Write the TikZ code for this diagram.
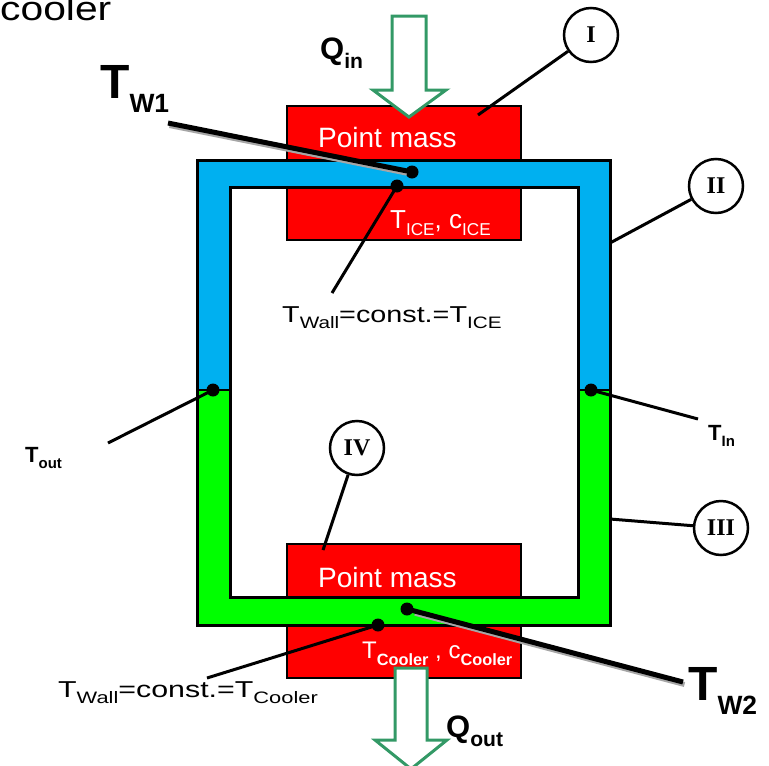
\documentclass[tikz,border=0pt]{standalone}
\usepackage{fontspec}
\setmainfont{Liberation Sans}
\newfontfamily\romfont{Liberation Serif}
\usetikzlibrary{positioning}

\definecolor{blueW}{RGB}{0,176,240}
\definecolor{greenW}{RGB}{0,255,0}
\definecolor{redM}{RGB}{255,0,0}
\definecolor{heatG}{RGB}{51,153,102}

% lowered, smaller index text
\newcommand{\low}[2][0.62]{\raisebox{-0.3em}{\scalebox{#1}{#2}}}
\newcommand{\fs}[1]{\fontsize{#1}{#1}\selectfont}
\newcommand{\wide}[2][1.25]{\scalebox{#1}[1]{#2}}

\begin{document}
\begin{tikzpicture}[x=1pt,y=-1pt,
  pmass/.style={fill=redM,draw=black,line width=2.5pt,minimum width=234pt,minimum height=134pt,inner sep=0pt},
  lead/.style={draw,line width=3pt},
  fat/.style={draw,line width=5pt},
  shade/.style={draw=black!35,line width=5pt,transform canvas={shift={(1.5pt,-2.5pt)}}},
  dot/.style={circle,fill=black,inner sep=0pt,minimum size=13pt},
  tag/.style={circle,draw,line width=2.5pt,minimum size=54pt,inner sep=0pt,font=\romfont\bfseries\fs{24}},
  heat/.style={draw=heatG,fill=white,line width=3pt,line join=miter},
  txt/.style={inner sep=0pt,anchor=base west}]

\useasboundingbox (0,0) rectangle (769,766);

% point masses
\node[pmass](ice) at (404,173){};
\node[pmass](cool) at (404,611){};

% loop walls
\fill[blueW] (197,390) -- (197,160) -- (610,160) -- (610,390) -- (578,390) -- (578,187) -- (230,187) -- (230,390) -- cycle;
\fill[greenW] (197,390) -- (197,625) -- (610,625) -- (610,390) -- (578,390) -- (578,597) -- (230,597) -- (230,390) -- cycle;
\draw[line width=3pt] (197,160) rectangle (610,625);
\draw[line width=3pt] (230,187) rectangle (578,597);
\draw[line width=1.2pt] (197,390) -- (230,390) (578,390) -- (610,390);

% heat flows
\draw[heat] (392,16) -- (426,16) -- (426,90) -- (446,90) -- (409,117) -- (373,90) -- (392,90) -- cycle;
\draw[heat] (395,668) -- (427,668) -- (427,740) -- (447,740) -- (411,769) -- (375,740) -- (395,740) -- cycle;

% texts
\node[txt,font=\fs{34}](cooler) at (0,20){\wide[1.2]{cooler}};
\node[txt,font=\bfseries\fs{31}](qin) at (320,59){Q\low[0.68]{in}};
\node[txt,font=\bfseries\fs{31}](qout) at (446,737){Q\low[0.68]{out}};
\node[txt,font=\fs{28},text=white](pm1) at (318,147){Point mass};
\node[txt,font=\fs{28},text=white](pm2) at (318,587){Point mass};
\node[txt,font=\fs{26},text=white](tice) at (390,228){T\low[0.66]{ICE}, c\low[0.66]{ICE}};
\node[txt,font=\fs{24},text=white](tcool) at (362,658){T\low[0.68]{\bfseries Cooler} , c\low[0.68]{\bfseries Cooler}};
\node[txt,font=\fs{23}](wall1) at (282,322){\wide[1.25]{T\low[0.72]{Wall}=const.=T\low[0.72]{ICE}}};
\node[txt,font=\fs{23}](wall2) at (58,697){\wide[1.32]{T\low[0.72]{Wall}=const.=T\low[0.72]{Cooler}}};
\node[txt,font=\bfseries\fs{48}](tw1) at (100,98){T\low[0.55]{W1}};
\node[txt,font=\bfseries\fs{48}](tw2) at (688,700){T\low[0.55]{W2}};
\node[txt,font=\bfseries\fs{22}](tout) at (25,462){T\low[0.68]{out}};
\node[txt,font=\bfseries\fs{22}](tinn) at (708,440){T\low[0.68]{In}};

% tags
\node[tag](t1) at (591,35){I};
\node[tag](t2) at (716,186){II};
\node[tag](t3) at (721,528){III};
\node[tag](t4) at (357,448){IV};

% sensor points
\node[dot](pw1) at (412,172){};
\node[dot](pwa1) at (397,186){};
\node[dot](pout) at (213,390){};
\node[dot](pin) at (591,390){};
\node[dot](pw2) at (407,609){};
\node[dot](pwa2) at (378,625){};

% free ends of leaders
\coordinate(ew1) at (168,123);
\coordinate(ew2) at (683,682);
\coordinate(ewa1) at (332,293);
\coordinate(ewa2) at (207,678);
\coordinate(eout) at (108,443);
\coordinate(ein) at (698,419);
\coordinate(e1) at (478,115);
\coordinate(e2) at (610,243);
\coordinate(e3) at (610,519);
\coordinate(e4) at (323,550);

\path (ew1) edge[shade] (pw1)
      (pw2) edge[shade] (ew2);
\path (ew1) edge[fat] (pw1.center)
      (pw2.center) edge[fat] (ew2)
      (pwa1.center) edge[lead] (ewa1)
      (pwa2.center) edge[lead] (ewa2)
      (pout.center) edge[lead] (eout)
      (pin.center) edge[lead] (ein)
      (t1) edge[lead] (e1)
      (t2) edge[lead] (e2)
      (t3) edge[lead] (e3)
      (t4) edge[lead] (e4);

\end{tikzpicture}
\end{document}
